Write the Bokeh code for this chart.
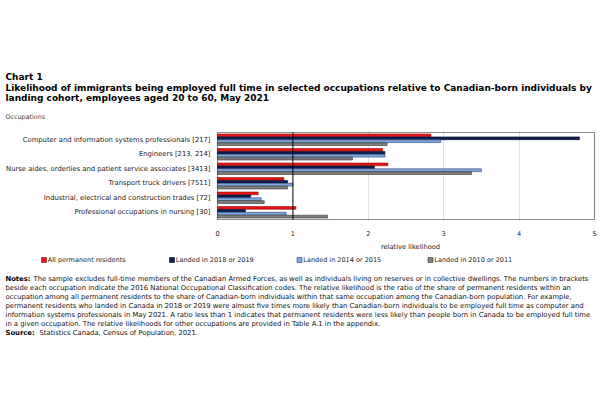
from bokeh.plotting import figure
from bokeh.layouts import column
from bokeh.models import Range1d, Label, FixedTicker, ColumnDataSource, Span
from bokeh.core.properties import value
from bokeh.embed import file_html
from bokeh.resources import INLINE

occupations = [
    "Computer and information systems professionals [217]",
    "Engineers [213, 214]",
    "Nurse aides, orderlies and patient service associates [3413]",
    "Transport truck drivers [7511]",
    "Industrial, electrical and construction trades [72]",
    "Professional occupations in nursing [30]",
]
series_names = ["All permanent residents", "Landed in 2018 or 2019",
                "Landed in 2014 or 2015", "Landed in 2010 or 2011"]
all_permanent_residents = [2.83, 2.19, 2.26, 0.88, 0.54, 1.04]
landed_2018_2019 = [4.80, 2.22, 2.08, 0.93, 0.44, 0.37]
landed_2014_2015 = [2.96, 2.22, 3.50, 1.00, 0.58, 0.91]
landed_2010_2011 = [2.25, 1.79, 3.37, 0.93, 0.62, 1.46]
x_ticks = [0, 1, 2, 3, 4, 5]
x_max = 5

series_values = [all_permanent_residents, landed_2018_2019, landed_2014_2015, landed_2010_2011]
colors = ["#EE1111", "#0F1E50", "#7FA8DC", "#808080"]
outline = ["#8B1010", "#050A25", "#2A4070", "#333333"]

W = 600
FONT = "DejaVu Sans"
PX0, PX5 = 217, 594        # pixel position of x=0 and x=5
PAD = 2                    # px of padding around bar box inside frame
HEAD_H = 132 - PAD         # header height
BOX_H = 87                 # bar box height
BAR_H = BOX_H + 2 * PAD    # frame height
AX_H = 20 - PAD            # x-axis label band
MAIN_H = BAR_H + AX_H
FOOT_H = 400 - HEAD_H - MAIN_H


def blank(h, y_top):
    f = figure(width=W, height=h, output_backend="svg", toolbar_location=None,
               x_range=Range1d(0, W), y_range=Range1d(y_top + h, y_top),
               x_axis_location=None, y_axis_location=None, min_border=0)
    f.grid.visible = False
    f.outline_line_color = None
    f.background_fill_color = "white"
    f.border_fill_color = "white"
    return f


def tx(f, x, y, text, size="6.8px", bold=False, color="#111111", align="left"):
    f.add_layout(Label(x=x, y=y, text=text, text_font=FONT, text_font_size=size,
                       text_font_style="bold" if bold else "normal",
                       text_color=color, text_align=align, text_baseline="middle"))


# ---------- header ----------
head = blank(HEAD_H, 0)
tx(head, 5, 76, "Chart 1", size="9px", bold=True, color="#000000")
tx(head, 5, 87, "Likelihood of immigrants being employed full time in selected occupations relative to Canadian-born individuals  by",
   size="9px", bold=True, color="#000000")
tx(head, 5, 97, "landing cohort, employees aged 20 to 60, May 2021", size="9px", bold=True, color="#000000")
tx(head, 5, 116, "Occupations", size="6.4px", color="#444444")

# ---------- main chart ----------
scale = (PX5 - PX0) / x_max
x_lo = -PX0 / scale
x_hi = x_max + (W - PX5) / scale
n = len(occupations)
ypad = PAD * n / BOX_H
p = figure(width=W, height=MAIN_H, output_backend="svg", toolbar_location=None,
           x_range=Range1d(x_lo, x_hi), y_range=Range1d(n - 0.5 + ypad, -0.5 - ypad),
           y_axis_location=None,
           min_border_left=0, min_border_right=0, min_border_top=0,
           min_border_bottom=AX_H)
p.background_fill_color = "white"
p.border_fill_color = "white"
p.outline_line_color = None

# grid lines and plot box
p.xgrid.ticker = FixedTicker(ticks=[2, 3, 4])
p.xgrid.grid_line_color = "#e2e2e2"
p.ygrid.grid_line_color = None
p.quad(left=[0], right=[x_max], bottom=[n - 0.5], top=[-0.5],
       fill_color=None, line_color="#8c8c8c", line_width=1.2)

offsets = [-0.3, -0.1, 0.1, 0.3]
for j, vals in enumerate(series_values):
    src = ColumnDataSource(dict(y=[i + offsets[j] for i in range(n)], right=vals))
    p.hbar(y="y", left=0, right="right", height=0.19, source=src,
           fill_color=colors[j], line_color=outline[j], line_width=0.6)

p.segment(x0=[1], x1=[1], y0=[-0.5], y1=[n - 0.5], line_color="#000000", line_width=1)

# category labels
lab_x = (210 - PX0) / scale
p.text(x=[lab_x] * n, y=list(range(n)), text=occupations, text_align="right",
       text_baseline="middle", text_font=value(FONT), text_font_size="6.8px",
       text_color="#222222")

p.xaxis.ticker = FixedTicker(ticks=x_ticks)
p.xaxis.axis_line_color = None
p.xaxis.major_tick_line_color = None
p.xaxis.minor_tick_line_color = None
p.xaxis.major_label_standoff = 3
p.xaxis.major_label_text_font = FONT
p.xaxis.major_label_text_font_size = "6.6px"
p.xaxis.major_label_text_color = "#222222"

# ---------- footer ----------
y_top = HEAD_H + MAIN_H
foot = blank(FOOT_H, y_top)
tx(foot, 410, 246, "relative likelihood", size="6.7px", color="#222222", align="center")

legend_x = [43.5, 171.5, 299, 430]
legend_y = 259.5
foot.scatter(x=legend_x, y=[legend_y] * 4, marker="square", size=5,
             fill_color=colors, line_color=outline, line_width=0.6)
for j, name in enumerate(series_names):
    tx(foot, legend_x[j] + 3.8, legend_y, name, size="6.5px", color="#222222")

notes = [
    "The sample excludes full-time members of the Canadian Armed Forces, as well as individuals living on reserves or in collective dwellings. The numbers in brackets",
    "beside each occupation indicate the 2016 National Occupational Classification codes. The relative likelihood is the ratio of the share of permanent residents within an",
    "occupation among all permanent residents to the share of Canadian-born individuals within that same occupation among the Canadian-born population. For example,",
    "permanent residents who landed in Canada in 2018 or 2019 were almost five times more likely than Canadian-born individuals to be employed full time as computer and",
    "information systems professionals in May 2021. A ratio less than 1 indicates that permanent residents were less likely than people born in Canada to be employed full time",
    "in a given occupation. The relative likelihoods for other occupations are provided in Table A.1 in the appendix.",
]
y0 = 278
dy = 9.1
tx(foot, 5, y0, "Notes:", bold=True, color="#000000")
tx(foot, 33, y0, notes[0], color="#111111")
for k, line in enumerate(notes[1:], start=1):
    tx(foot, 5, y0 + k * dy, line, color="#111111")
tx(foot, 5, y0 + 6 * dy, "Source:", bold=True, color="#000000")
tx(foot, 39, y0 + 6 * dy, "Statistics Canada, Census of Population, 2021.", color="#111111")

layout = column(head, p, foot, spacing=0)
open("out.html", "w").write(file_html(layout, INLINE))
